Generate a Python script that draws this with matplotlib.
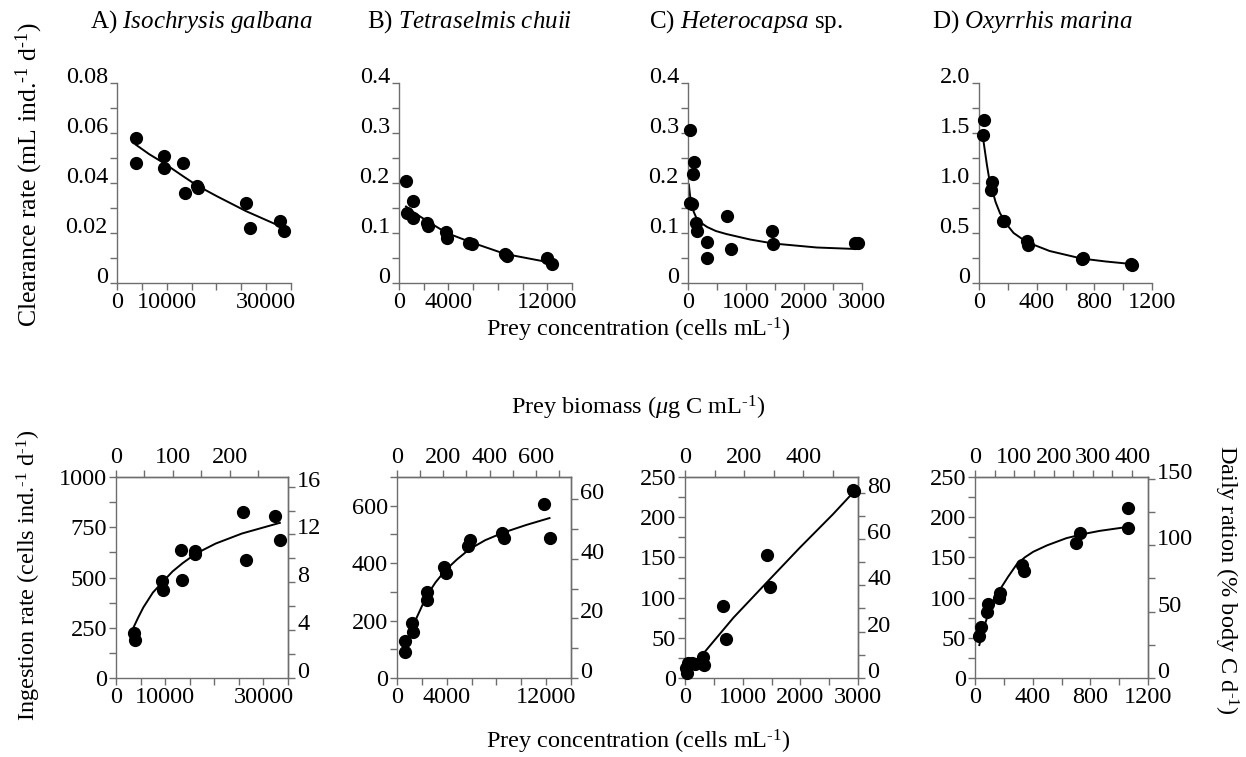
import matplotlib
matplotlib.use('Agg')
import matplotlib.pyplot as plt

plt.rcParams['font.family'] = ['Liberation Serif', 'DejaVu Serif']
plt.rcParams['mathtext.fontset'] = 'custom'
plt.rcParams['mathtext.rm'] = 'Liberation Serif'
plt.rcParams['mathtext.it'] = 'Liberation Serif:italic'

# ---- titles
titles = [r'A) $\mathit{Isochrysis\ galbana}$', r'B) $\mathit{Tetraselmis\ chuii}$',
          r'C) $\mathit{Heterocapsa}$ sp.', r'D) $\mathit{Oxyrrhis\ marina}$']

# ---- clearance rate (top row): points and fitted curve
clr_x_A = [3800, 3800, 9400, 9500, 13300, 13700, 16000, 16300, 26000, 26800, 32700, 33500]
clr_y_A = [0.058, 0.048, 0.051, 0.046, 0.048, 0.036, 0.039, 0.038, 0.032, 0.022, 0.025, 0.021]
clr_fx_A = [3800, 6500, 9400, 13300, 16100, 20100, 26000, 32600]
clr_fy_A = [0.0553, 0.0515, 0.0480, 0.0427, 0.0390, 0.0347, 0.0287, 0.0229]

clr_x_B = [600, 650, 1100, 1150, 2300, 2350, 3800, 3900, 5700, 5900, 8600, 8700, 11950, 12400]
clr_y_B = [0.205, 0.140, 0.165, 0.130, 0.121, 0.115, 0.102, 0.090, 0.081, 0.079, 0.058, 0.055, 0.050, 0.039]
clr_fx_B = [570, 1150, 2330, 3870, 5770, 8600, 10300, 12000]
clr_fy_B = [0.153, 0.142, 0.123, 0.100, 0.082, 0.058, 0.050, 0.042]

clr_x_C = [30, 40, 70, 87, 98, 145, 155, 330, 330, 665, 735, 1455, 1470, 2885, 2925]
clr_y_C = [0.307, 0.160, 0.158, 0.219, 0.242, 0.120, 0.105, 0.083, 0.050, 0.135, 0.068, 0.105, 0.078, 0.080, 0.080]
clr_fx_C = [15, 35, 60, 100, 145, 230, 330, 480, 660, 1070, 1470, 2220, 2890]
clr_fy_C = [0.197, 0.175, 0.158, 0.142, 0.130, 0.120, 0.112, 0.104, 0.098, 0.087, 0.079, 0.071, 0.068]

clr_x_D = [35, 30, 88, 81, 164, 170, 330, 337, 711, 722, 1057, 1062]
clr_y_D = [1.627, 1.483, 1.01, 0.933, 0.617, 0.625, 0.417, 0.383, 0.240, 0.250, 0.190, 0.177]
clr_fx_D = [23, 40, 55, 70, 88, 115, 145, 190, 240, 330, 490, 710, 880, 1057]
clr_fy_D = [1.50, 1.33, 1.18, 1.05, 0.95, 0.81, 0.70, 0.59, 0.50, 0.41, 0.32, 0.245, 0.215, 0.19]

# ---- ingestion rate (bottom row): points and fitted curve
ing_x_A = [3750, 3880, 9440, 9580, 13260, 13460, 16070, 16140, 25780, 26520, 32340, 33350]
ing_y_A = [226, 187, 485, 438, 639, 490, 632, 615, 828, 589, 808, 689]
ing_fx_A = [3550, 4500, 5560, 7500, 9575, 11500, 13590, 16270, 20290, 25650, 33350]
ing_fy_A = [251, 300, 351, 425, 480, 530, 572, 619, 669, 719, 772]

ing_x_B = [670, 670, 1200, 1280, 2400, 2400, 3790, 3950, 5730, 5870, 8450, 8610, 11810, 12320]
ing_y_B = [130, 92, 191, 159, 299, 272, 386, 365, 459, 479, 506, 487, 607, 487]
ing_fx_B = [1070, 1600, 2400, 3100, 3870, 4800, 5810, 7100, 8530, 10400, 12270]
ing_fy_B = [152, 212, 287, 333, 374, 412, 448, 480, 506, 533, 557]

ing_x_C = [15, 40, 60, 115, 175, 320, 330, 655, 710, 1430, 1475, 2905, 2935]
ing_y_C = [13, 6, 19, 19, 17, 26, 16, 90, 49, 153, 113, 234, 232]
ing_fx_C = [290, 840, 1420, 1990, 2570, 2920]
ing_fy_C = [28, 75, 119, 162, 204, 231]

ing_x_D = [28, 39, 85, 92, 168, 173, 328, 339, 704, 727, 1062, 1062]
ing_y_D = [52, 63, 82, 92, 100, 106, 140, 133, 168, 180, 211, 186]
ing_fx_D = [30, 50, 69, 104, 140, 173, 230, 288, 345, 404, 500, 635, 750, 865, 1062]
ing_fy_D = [41, 54, 67, 86, 100, 110, 126, 141, 150, 157, 165, 174, 179, 183, 188]

clr_pts = [(clr_x_A, clr_y_A, clr_fx_A, clr_fy_A), (clr_x_B, clr_y_B, clr_fx_B, clr_fy_B),
           (clr_x_C, clr_y_C, clr_fx_C, clr_fy_C), (clr_x_D, clr_y_D, clr_fx_D, clr_fy_D)]
ing_pts = [(ing_x_A, ing_y_A, ing_fx_A, ing_fy_A), (ing_x_B, ing_y_B, ing_fx_B, ing_fy_B),
           (ing_x_C, ing_y_C, ing_fx_C, ing_fy_C), (ing_x_D, ing_y_D, ing_fx_D, ing_fy_D)]

# ---- axes ticks
x_ticks = [list(range(0, 35001, 5000)), list(range(0, 14001, 2000)),
           list(range(0, 3001, 500)), list(range(0, 1201, 200))]
x_labels = [['0', '', '10000', '', '', '', '30000', ''],
            ['0', '', '4000', '', '', '', '12000', ''],
            ['0', '', '1000', '', '2000', '', '3000'],
            ['0', '', '400', '', '800', '', '1200']]

clr_yticks = [[i * 0.01 for i in range(9)], [i * 0.05 for i in range(9)],
              [i * 0.05 for i in range(9)], [i * 0.25 for i in range(9)]]
clr_ylabels = [['0', '', '0.02', '', '0.04', '', '0.06', '', '0.08'],
               ['0', '', '0.1', '', '0.2', '', '0.3', '', '0.4'],
               ['0', '', '0.1', '', '0.2', '', '0.3', '', '0.4'],
               ['0', '', '0.5', '', '1.0', '', '1.5', '', '2.0']]

ing_ylim = [1000, 700, 250, 250]
ing_yticks = [list(range(0, 1001, 125)), list(range(0, 701, 100)),
              list(range(0, 251, 25)), list(range(0, 251, 25))]
ing_ylabels = [['0', '', '250', '', '500', '', '750', '', '1000'],
               ['0', '', '200', '', '400', '', '600', ''],
               ['0', '', '50', '', '100', '', '150', '', '200', '', '250'],
               ['0', '', '50', '', '100', '', '150', '', '200', '', '250']]

# secondary scales: biomass per cell and daily ration per ingestion unit
biomass_per_cell = [0.00863, 0.0537, 0.195, 0.367]
ration_per_ing = [0.0168, 0.0963, 0.347, 0.605]

bio_ticks = [list(range(0, 251, 50)), list(range(0, 701, 100)),
             list(range(0, 501, 100)), list(range(0, 401, 50))]
bio_labels = [['0', '', '100', '', '200', ''],
              ['0', '', '200', '', '400', '', '600', ''],
              ['0', '', '200', '', '400', ''],
              ['0', '', '100', '', '200', '', '300', '', '400']]
rat_ticks = [list(range(0, 17, 2)), list(range(0, 61, 10)),
             list(range(0, 81, 10)), list(range(0, 151, 25))]
rat_labels = [['0', '', '4', '', '8', '', '12', '', '16'],
              ['0', '', '20', '', '40', '', '60'],
              ['0', '', '20', '', '40', '', '60', '', '80'],
              ['0', '', '50', '', '100', '', '150']]

W, H = 1246, 757
top_left = [117, 399, 688, 979]
top_w = [174, 173, 174, 173]
bot_left = [116, 397, 685, 975]
bot_w = [172, 174, 173, 173]
title_x = [202, 470, 746, 1032]

FS = 17.5
SPINE = '#6e6e6e'
SUP = r'$^{\text{-1}}$'

fig = plt.figure(figsize=(W / 100, H / 100), dpi=100)


def style(ax):
    for s in ax.spines.values():
        s.set_color(SPINE)
        s.set_linewidth(1.0)
    ax.tick_params(direction='out', length=5, width=1.0, color=SPINE,
                   labelsize=FS, pad=1.5)


def raise_ylabels(axis):
    # tick labels sit with their baseline on the tick, as in the source figure
    for t in axis.get_major_ticks():
        t.label1.set_va('baseline')
        t.label2.set_va('baseline')


for i in range(4):
    # top row: clearance
    ax = fig.add_axes([top_left[i] / W, (H - 283) / H, top_w[i] / W, 200 / H])
    px, py, fx, fy = clr_pts[i]
    ax.plot(fx, fy, color='black', lw=1.4, zorder=2)
    ax.plot(px, py, 'o', color='black', ms=8.5, clip_on=False, zorder=3)
    ax.set_xlim(0, x_ticks[i][-1])
    ax.set_ylim(0, clr_yticks[i][-1])
    ax.set_xticks(x_ticks[i])
    ax.set_xticklabels(x_labels[i])
    ax.set_yticks(clr_yticks[i])
    ax.set_yticklabels(clr_ylabels[i])
    ax.spines['top'].set_visible(False)
    ax.spines['right'].set_visible(False)
    style(ax)
    raise_ylabels(ax.yaxis)
    fig.text(title_x[i] / W, 1 - 28 / H, titles[i], fontsize=18, ha='center', va='baseline')

    # bottom row: ingestion
    ax = fig.add_axes([bot_left[i] / W, (H - 678) / H, bot_w[i] / W, 201 / H])
    px, py, fx, fy = ing_pts[i]
    ax.plot(fx, fy, color='black', lw=1.4, zorder=2)
    ax.plot(px, py, 'o', color='black', ms=8.5, clip_on=False, zorder=3)
    ax.set_xlim(0, x_ticks[i][-1])
    ax.set_ylim(0, ing_ylim[i])
    ax.set_xticks(x_ticks[i])
    ax.set_xticklabels(x_labels[i])
    ax.set_yticks(ing_yticks[i])
    ax.set_yticklabels(ing_ylabels[i])
    style(ax)

    b = biomass_per_cell[i]
    secx = ax.secondary_xaxis('top', functions=(lambda x, b=b: x * b, lambda x, b=b: x / b))
    secx.set_xticks(bio_ticks[i])
    secx.set_xticklabels(bio_labels[i])
    style(secx)

    r = ration_per_ing[i]
    secy = ax.secondary_yaxis('right', functions=(lambda y, r=r: y * r, lambda y, r=r: y / r))
    secy.set_yticks(rat_ticks[i])
    secy.set_yticklabels(rat_labels[i])
    style(secy)
    raise_ylabels(secy.yaxis)

fig.text(29 / W, 1 - 175 / H, 'Clearance rate (mL ind.' + SUP + ' d' + SUP + ')',
         fontsize=18.5, rotation=90, ha='center', va='center')
fig.text(29 / W, 1 - 575 / H, 'Ingestion rate (cells ind.' + SUP + ' d' + SUP + ')',
         fontsize=FS, rotation=90, ha='center', va='center')
fig.text(1226 / W, 1 - 580 / H, 'Daily ration (% body C d' + SUP + ')',
         fontsize=FS, rotation=270, ha='center', va='center')
fig.text(638 / W, 1 - 330 / H, 'Prey concentration (cells mL' + SUP + ')',
         fontsize=FS, ha='center', va='center')
fig.text(638 / W, 1 - 408 / H, r'Prey biomass ($\mathit{\mu}$g C mL' + SUP + ')',
         fontsize=FS, ha='center', va='center')
fig.text(638 / W, 1 - 742 / H, 'Prey concentration (cells mL' + SUP + ')',
         fontsize=FS, ha='center', va='center')

fig.savefig('out.png', dpi=100)
